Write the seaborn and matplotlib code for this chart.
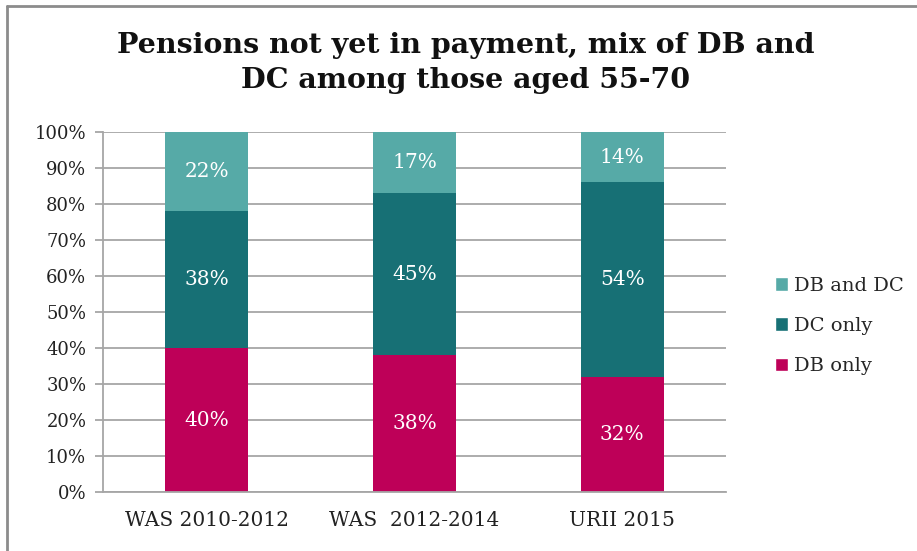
import matplotlib
matplotlib.use("Agg")
import matplotlib.pyplot as plt
from matplotlib.lines import Line2D
from matplotlib.patches import Patch
import seaborn as sns
import pandas as pd

# Survey sources and the share of each pension mix (percent)
categories = ["WAS 2010-2012", "WAS  2012-2014", "URII 2015"]
db_only = [40, 38, 32]
dc_only = [38, 45, 54]
db_and_dc = [22, 17, 14]

series_names = ["DB only", "DC only", "DB and DC"]
series_values = [db_only, dc_only, db_and_dc]
series_colors = ["#BE0058", "#177075", "#56AAA7"]

y_ticks = list(range(0, 101, 10))

sns.set_style("white")
plt.rcParams["font.family"] = ["DejaVu Serif"]

fig = plt.figure(figsize=(9.17, 5.51), dpi=100)
ax = fig.add_axes([103 / 917, 1 - 492 / 551, (726 - 103) / 917, (492 - 132) / 551])

grid_color = "#a6a6a6"
for t in y_ticks:
    ax.axhline(t, color=grid_color, lw=1.3, zorder=0)

bottom = [0, 0, 0]
for name, vals, col in zip(series_names, series_values, series_colors):
    df = pd.DataFrame({"source": categories, "share": vals})
    sns.barplot(data=df, x="source", y="share", color=col, width=0.4,
                bottom=bottom, ax=ax, saturation=1, zorder=2, linewidth=0)
    for i, v in enumerate(vals):
        ax.text(i, bottom[i] + v / 2, f"{v}%", ha="center", va="center",
                color="white", fontsize=14.5, zorder=3)
    bottom = [b + v for b, v in zip(bottom, vals)]

ax.set_xlim(-0.5, 2.5)
ax.set_ylim(0, 100)
ax.set_yticks(y_ticks)
ax.set_yticklabels([f"{t}%" for t in y_ticks], fontsize=13, color="#222222")
ax.set_xlabel("")
ax.set_ylabel("")
ax.tick_params(axis="x", which="major", length=0, pad=14, labelsize=14.5,
               labelcolor="#222222")
ax.set_xticks([-0.5, 0.5, 1.5, 2.5], minor=True)
ax.tick_params(axis="x", which="minor", length=6, width=1.3, color=grid_color,
               direction="out")
ax.tick_params(axis="y", length=6, width=1.3, color=grid_color, direction="out",
               pad=6, left=True)

for side in ["top", "right"]:
    ax.spines[side].set_visible(False)
for side in ["left", "bottom"]:
    ax.spines[side].set_visible(True)
    ax.spines[side].set_color(grid_color)
    ax.spines[side].set_linewidth(1.3)

handles = [Patch(facecolor=c, edgecolor="white", label=n)
           for n, c in zip(series_names, series_colors)][::-1]
fig.legend(handles=handles, loc="center left", bbox_to_anchor=(757 / 917, 1 - 326 / 551),
           frameon=False, fontsize=14, handlelength=0.7, handleheight=0.7,
           handletextpad=0.3, labelspacing=1.15)

fig.text(466 / 917, 1 - 63 / 551,
         "Pensions not yet in payment, mix of DB and\nDC among those aged 55-70",
         ha="center", va="center", fontsize=20.5, fontweight="bold",
         linespacing=1.38, color="#111111")

# Chart frame (top and left edges)
frame_color = "#8c8c8c"
fig.add_artist(Line2D([7 / 917, 1.0], [1 - 6 / 551, 1 - 6 / 551],
                      transform=fig.transFigure, color=frame_color, lw=2))
fig.add_artist(Line2D([7 / 917, 7 / 917], [0.0, 1 - 6 / 551],
                      transform=fig.transFigure, color=frame_color, lw=2))

fig.savefig("out.png", dpi=100, facecolor="white")
